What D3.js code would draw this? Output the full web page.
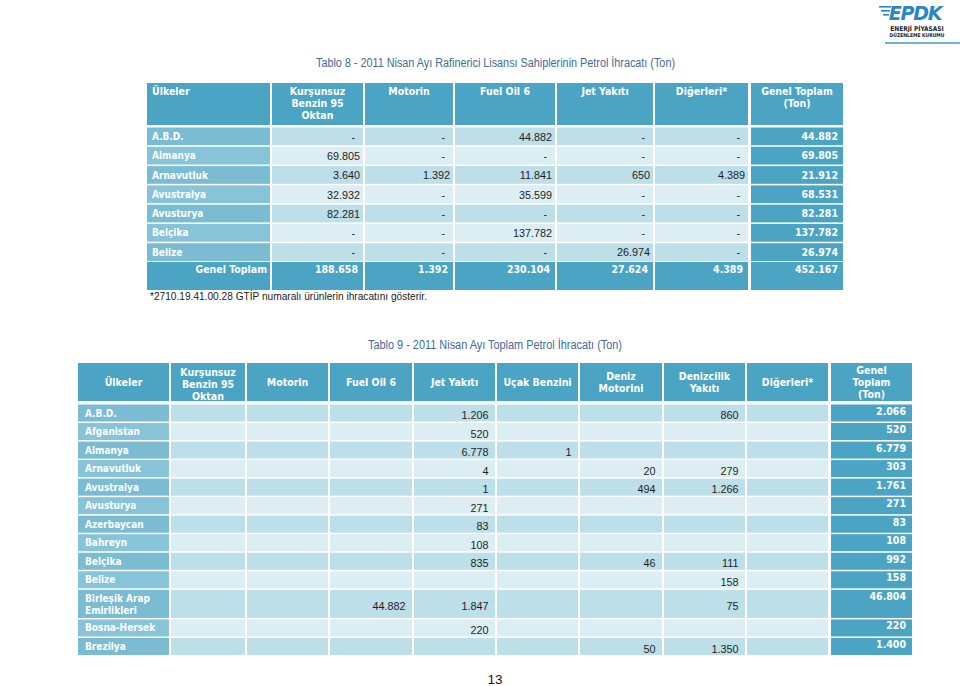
<!DOCTYPE html>
<html>
<head>
<meta charset="utf-8">
<script src="https://cdn.jsdelivr.net/npm/d3@7"></script>
<style>
  html, body { margin: 0; padding: 0; background: #ffffff; }
  svg { display: block; }
  .hdr { font-family: "DejaVu Sans Condensed", "DejaVu Sans", sans-serif; font-stretch: condensed; font-weight: bold; fill: #ffffff; }
  .lbl { font-family: "DejaVu Sans Condensed", "DejaVu Sans", sans-serif; font-stretch: condensed; font-weight: bold; fill: #ffffff; }
  .num { font-family: "Liberation Sans", Arial, sans-serif; fill: #1e1e1e; }
</style>
</head>
<body>
<script>
// ---------------- DATA: Tablo 8 ----------------
const title8 = "Tablo 8 - 2011 Nisan Ayı Rafinerici Lisansı Sahiplerinin Petrol İhracatı (Ton)";
const countries8 = ["A.B.D.", "Almanya", "Arnavutluk", "Avustralya", "Avusturya", "Belçika", "Belize"];
const headers8 = [["Ülkeler"], ["Kurşunsuz", "Benzin 95", "Oktan"], ["Motorin"], ["Fuel Oil 6"], ["Jet Yakıtı"], ["Diğerleri*"], ["Genel Toplam", "(Ton)"]];
const kursunsuz8 = [null, 69805, 3640, 32932, 82281, null, null];
const motorin8   = [null, null, 1392, null, null, null, null];
const fuelOil8   = [44882, null, 11841, 35599, null, 137782, null];
const jet8       = [null, null, 650, null, null, null, 26974];
const diger8     = [null, null, 4389, null, null, null, null];
const total8     = [44882, 69805, 21912, 68531, 82281, 137782, 26974];
const totalRowLabel8 = "Genel Toplam";
const productTotals8 = [188658, 1392, 230104, 27624, 4389, 452167];
const footnote8 = "*2710.19.41.00.28 GTİP numaralı ürünlerin ihracatını gösterir.";

// ---------------- DATA: Tablo 9 ----------------
const title9 = "Tablo 9 - 2011 Nisan Ayı Toplam Petrol İhracatı (Ton)";
const countries9 = ["A.B.D.", "Afganistan", "Almanya", "Arnavutluk", "Avustralya", "Avusturya", "Azerbaycan", "Bahreyn", "Belçika", "Belize", "Birleşik Arap Emirlikleri", "Bosna-Hersek", "Brezilya"];
const headers9 = [["Ülkeler"], ["Kurşunsuz", "Benzin 95", "Oktan"], ["Motorin"], ["Fuel Oil 6"], ["Jet Yakıtı"], ["Uçak Benzini"], ["Deniz", "Motorini"], ["Denizcilik", "Yakıtı"], ["Diğerleri*"], ["Genel", "Toplam", "(Ton)"]];
const kursunsuz9  = [null, null, null, null, null, null, null, null, null, null, null, null, null];
const motorin9    = [null, null, null, null, null, null, null, null, null, null, null, null, null];
const fuelOil9    = [null, null, null, null, null, null, null, null, null, null, 44882, null, null];
const jet9        = [1206, 520, 6778, 4, 1, 271, 83, 108, 835, null, 1847, 220, null];
const ucak9       = [null, null, 1, null, null, null, null, null, null, null, null, null, null];
const denizMot9   = [null, null, null, 20, 494, null, null, null, 46, null, null, null, 50];
const denizcilik9 = [860, null, null, 279, 1266, null, null, null, 111, 158, 75, null, 1350];
const diger9      = [null, null, null, null, null, null, null, null, null, null, null, null, null];
const total9      = [2066, 520, 6779, 303, 1761, 271, 83, 108, 992, 158, 46804, 220, 1400];

const pageNumber = "13";

// ---------------- STYLE ----------------
const C = {
  header: "#4BA4C4",
  labelDark: "#7BBCD3",
  labelLight: "#88C4D9",
  dataDark: "#BDDFEA",
  dataLight: "#DCEEF4",
  title: "#44699A"
};
const fmt = d3.formatLocale({ decimal: ",", thousands: ".", grouping: [3], currency: ["", ""] }).format(",d");

const svg = d3.select("body").append("svg").attr("width", 960).attr("height", 686);

// ================= LOGO =================
const logo = svg.append("g");
logo.append("text").attr("x", 915).attr("y", 19.5).attr("text-anchor", "middle")
  .attr("font-family", "DejaVu Sans, sans-serif").attr("font-weight", "bold").attr("font-size", 19)
  .attr("letter-spacing", -1.2).attr("fill", "#2a86c4").attr("font-style", "italic").text("EPDK");
[6, 10, 14].forEach((yy, i) => logo.append("rect").attr("x", 879 + i * 2).attr("y", yy).attr("width", 12 - i * 3).attr("height", 1.6).attr("fill", "#2a86c4"));
logo.append("text").attr("x", 917).attr("y", 30.5).attr("text-anchor", "middle")
  .attr("font-family", "DejaVu Sans Condensed, DejaVu Sans, sans-serif").attr("font-weight", "bold")
  .attr("font-size", 6.5).attr("fill", "#1b1b2e").text("ENERJİ PİYASASI");
logo.append("text").attr("x", 917).attr("y", 37).attr("text-anchor", "middle")
  .attr("font-family", "DejaVu Sans Condensed, DejaVu Sans, sans-serif").attr("font-weight", "bold")
  .attr("font-size", 5).attr("fill", "#1b1b2e").text("DÜZENLEME KURUMU");
logo.append("rect").attr("x", 885).attr("y", 42).attr("width", 75).attr("height", 2).attr("fill", "#6fb3d6");

// ================= helpers =================
function multiline(g, lines, x, y0, lh, anchor, cls, size) {
  const t = g.append("text").attr("class", cls).attr("font-size", size).attr("text-anchor", anchor);
  lines.forEach((l, i) => t.append("tspan").attr("x", x).attr("y", y0 + i * lh).text(l));
  return t;
}

// ================= TABLO 8 =================
const g8 = svg.append("g");
g8.append("text").attr("x", 495.5).attr("y", 67).attr("text-anchor", "middle")
  .attr("font-family", "Liberation Sans, Arial, sans-serif").attr("font-size", 12.5)
  .attr("fill", C.title).attr("textLength", 359).attr("lengthAdjust", "spacingAndGlyphs").text(title8);

const cols8 = d3.range(headers8.length);
const x8 = d3.scaleOrdinal().domain(cols8).range([147, 272, 365, 455, 557, 655, 751]);
const w8 = d3.scaleOrdinal().domain(cols8).range([123, 91, 88, 100, 96, 93, 92]);
const y8 = d3.scaleBand().domain(countries8).range([127.5, 261]).paddingInner(0.08);
const series8 = [kursunsuz8, motorin8, fuelOil8, jet8, diger8];

// header
cols8.forEach(c => {
  g8.append("rect").attr("x", x8(c)).attr("y", 83).attr("width", w8(c)).attr("height", 42).attr("fill", C.header);
  if (c === 0) multiline(g8, headers8[c], x8(c) + 5, 95, 12, "start", "hdr", 10.5);
  else multiline(g8, headers8[c], x8(c) + w8(c) / 2, 95, 12, "middle", "hdr", 10.5);
});

// body rows
countries8.forEach((country, r) => {
  const yy = y8(country), hh = y8.bandwidth();
  const dark = r % 2 === 0;
  g8.append("rect").attr("x", x8(0)).attr("y", yy).attr("width", w8(0)).attr("height", hh)
    .attr("fill", dark ? C.labelDark : C.labelLight);
  g8.append("text").attr("class", "lbl").attr("font-size", 10).attr("x", x8(0) + 5).attr("y", yy + 12.5).text(country);
  series8.forEach((s, i) => {
    const c = i + 1;
    g8.append("rect").attr("x", x8(c)).attr("y", yy).attr("width", w8(c)).attr("height", hh)
      .attr("fill", dark ? C.dataDark : C.dataLight);
    const v = s[r];
    g8.append("text").attr("class", "num").attr("font-size", 10.8).attr("text-anchor", "end")
      .attr("x", x8(c) + w8(c) - (v == null ? 8 : 3)).attr("y", yy + 13.2)
      .text(v == null ? "-" : fmt(v));
  });
  const c = 6;
  g8.append("rect").attr("x", x8(c)).attr("y", yy).attr("width", w8(c)).attr("height", hh).attr("fill", C.header);
  g8.append("text").attr("class", "lbl").attr("font-size", 10.5).attr("text-anchor", "end")
    .attr("x", x8(c) + w8(c) - 5).attr("y", yy + 12.5).text(fmt(total8[r]));
});

// total row
cols8.forEach(c => {
  g8.append("rect").attr("x", x8(c)).attr("y", 262).attr("width", w8(c)).attr("height", 28).attr("fill", C.header);
  const txt = c === 0 ? totalRowLabel8 : fmt(productTotals8[c - 1]);
  g8.append("text").attr("class", "lbl").attr("font-size", 10.5).attr("text-anchor", "end")
    .attr("x", x8(c) + w8(c) - (c === 0 ? 3 : 5)).attr("y", 273).text(txt);
});

g8.append("text").attr("x", 150).attr("y", 300)
  .attr("font-family", "Liberation Sans, Arial, sans-serif").attr("font-size", 10.5)
  .attr("fill", "#222").attr("textLength", 277).attr("lengthAdjust", "spacingAndGlyphs").text(footnote8);

// ================= TABLO 9 =================
const g9 = svg.append("g");
g9.append("text").attr("x", 495).attr("y", 349).attr("text-anchor", "middle")
  .attr("font-family", "Liberation Sans, Arial, sans-serif").attr("font-size", 12.5)
  .attr("fill", C.title).attr("textLength", 254).attr("lengthAdjust", "spacingAndGlyphs").text(title9);

const cols9 = d3.range(headers9.length);
const x9 = d3.scaleOrdinal().domain(cols9).range([78, 171, 247, 330, 414, 497, 580, 664, 747, 831]);
const w9 = d3.scaleOrdinal().domain(cols9).range([91, 74, 81, 82, 81, 81, 82, 81, 81, 81]);
const labelLines9 = countries9.map(c => c.length > 16 ? ["Birleşik Arap", "Emirlikleri"] : [c]);
const units9 = labelLines9.map(l => l.length === 1 ? 1 : 1.6);
const cum9 = [0, ...d3.cumsum(units9)];
const y9 = d3.scaleLinear().domain([0, cum9[cum9.length - 1]]).range([404.5, 656.5]);
const series9 = [kursunsuz9, motorin9, fuelOil9, jet9, ucak9, denizMot9, denizcilik9, diger9];

// header
cols9.forEach(c => {
  g9.append("rect").attr("x", x9(c)).attr("y", 363).attr("width", w9(c)).attr("height", 38).attr("fill", C.header);
  const lines = headers9[c];
  const y0 = 386 - (lines.length - 1) * 11.7 / 2 + (c === 1 ? 2 : 0);
  multiline(g9, lines, x9(c) + w9(c) / 2, y0, 11.7, "middle", "hdr", 10.5);
});

countries9.forEach((country, r) => {
  const yy = y9(cum9[r]), hh = y9(cum9[r + 1]) - yy - 1.5;
  const dark = r % 2 === 0;
  g9.append("rect").attr("x", x9(0)).attr("y", yy).attr("width", w9(0)).attr("height", hh)
    .attr("fill", dark ? C.labelDark : C.labelLight);
  multiline(g9, labelLines9[r], x9(0) + 7, yy + 12, 12.5, "start", "lbl", 10);
  series9.forEach((s, i) => {
    const c = i + 1;
    g9.append("rect").attr("x", x9(c)).attr("y", yy).attr("width", w9(c)).attr("height", hh)
      .attr("fill", dark ? C.dataDark : C.dataLight);
    const v = s[r];
    if (v != null) {
      g9.append("text").attr("class", "num").attr("font-size", 10.8).attr("text-anchor", "end")
        .attr("x", x9(c) + w9(c) - 6.5).attr("y", yy + hh / 2 + 6.2).text(fmt(v));
    }
  });
  const c = 9;
  g9.append("rect").attr("x", x9(c)).attr("y", yy).attr("width", w9(c)).attr("height", hh).attr("fill", C.header);
  g9.append("text").attr("class", "lbl").attr("font-size", 10.5).attr("text-anchor", "end")
    .attr("x", x9(c) + w9(c) - 6).attr("y", yy + 10).text(fmt(total9[r]));
});

// page number
svg.append("text").attr("x", 495).attr("y", 684).attr("text-anchor", "middle")
  .attr("font-family", "Liberation Sans, Arial, sans-serif").attr("font-size", 13.5).attr("fill", "#111").text(pageNumber);
</script>
</body>
</html>
